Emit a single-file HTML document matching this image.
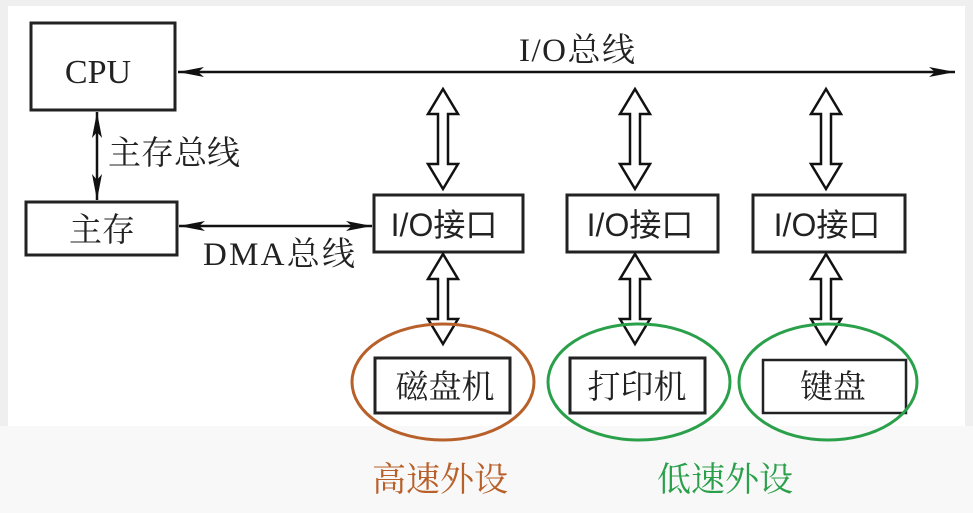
<!DOCTYPE html>
<html><head><meta charset="utf-8"><style>
html,body{margin:0;padding:0;background:#efefef;}
svg{display:block}
.s{font-family:"Liberation Serif","Noto Serif CJK SC",serif;}
.a{font-family:"Liberation Sans","Noto Sans CJK SC",sans-serif;}
</style></head><body>
<svg width="973" height="513" viewBox="0 0 973 513" xmlns="http://www.w3.org/2000/svg">
<defs>
<marker id="ar" viewBox="0 0 26 12" refX="26" refY="6" markerWidth="26" markerHeight="12" markerUnits="userSpaceOnUse" orient="auto-start-reverse">
<path d="M0,1 L26,6 L0,11 L6,6 Z" fill="#111"/></marker>
</defs>
<rect x="8" y="6" width="957" height="420" fill="#fff"/>
<rect x="0" y="426" width="973" height="87" fill="#f8f8f8"/>
<g stroke="#222" stroke-width="3" fill="none">
<rect x="31" y="23" width="144" height="87"/>
<rect x="26" y="202" width="151" height="53"/>
<rect x="374" y="195" width="149" height="57"/>
<rect x="567" y="195" width="151" height="57"/>
<rect x="753" y="195" width="152" height="57"/>
<rect x="375" y="358" width="135" height="55"/>
<rect x="570" y="358" width="135" height="55"/>
<rect x="763" y="360" width="143" height="53" stroke-width="2.5"/>
</g>
<g stroke="#111" stroke-width="2.5" fill="none">
<line x1="178" y1="72" x2="955" y2="72" marker-start="url(#ar)" marker-end="url(#ar)"/>
<line x1="97" y1="112" x2="97" y2="200" marker-start="url(#ar)" marker-end="url(#ar)"/>
<line x1="179" y1="226" x2="372" y2="226" marker-start="url(#ar)" marker-end="url(#ar)"/>
</g>
<g stroke="#111" stroke-width="2.5" fill="#fff">
<path d="M0,0 L15,25 L5,25 L5,75 L15,75 L0,100 L-15,75 L-5,75 L-5,25 L-15,25 Z" transform="translate(443,89)"/>
<path d="M0,0 L15,25 L5,25 L5,75 L15,75 L0,100 L-15,75 L-5,75 L-5,25 L-15,25 Z" transform="translate(635,89)"/>
<path d="M0,0 L15,25 L5,25 L5,75 L15,75 L0,100 L-15,75 L-5,75 L-5,25 L-15,25 Z" transform="translate(826,89)"/>
<path d="M0,0 L15,25 L5,25 L5,65 L15,65 L0,90 L-15,65 L-5,65 L-5,25 L-15,25 Z" transform="translate(443,254)"/>
<path d="M0,0 L15,25 L5,25 L5,65 L15,65 L0,90 L-15,65 L-5,65 L-5,25 L-15,25 Z" transform="translate(635,254)"/>
<path d="M0,0 L15,25 L5,25 L5,65 L15,65 L0,90 L-15,65 L-5,65 L-5,25 L-15,25 Z" transform="translate(826,254)"/>
</g>
<g fill="none" stroke-width="3">
<ellipse cx="443" cy="382" rx="91" ry="58" stroke="#b8602a"/>
<ellipse cx="639" cy="382" rx="91" ry="58" stroke="#2aa04a"/>
<ellipse cx="828" cy="382" rx="89" ry="58" stroke="#2aa04a"/>
</g>
<g fill="#222" font-size="33">
<text class="s" x="98" y="83" text-anchor="middle" font-size="34">CPU</text>
<text class="s" x="102" y="241" text-anchor="middle">主存</text>
<text class="s" x="108" y="164">主存总线</text>
<text class="s" x="203" y="265" textLength="152">DMA总线</text>
<text class="s" x="519" y="61" textLength="116">I/O总线</text>
<text class="a" x="444" y="236" text-anchor="middle" font-size="32">I/O接口</text>
<text class="a" x="640" y="236" text-anchor="middle" font-size="32">I/O接口</text>
<text class="a" x="827" y="236" text-anchor="middle" font-size="32">I/O接口</text>
<text class="s" x="445" y="398" text-anchor="middle">磁盘机</text>
<text class="s" x="637" y="398" text-anchor="middle">打印机</text>
<text class="s" x="833" y="398" text-anchor="middle">键盘</text>
<text class="s" x="440" y="491" text-anchor="middle" fill="#b8602a" font-size="34">高速外设</text>
<text class="s" x="725" y="491" text-anchor="middle" fill="#2aa04a" font-size="34">低速外设</text>
</g>
</svg>
</body></html>
